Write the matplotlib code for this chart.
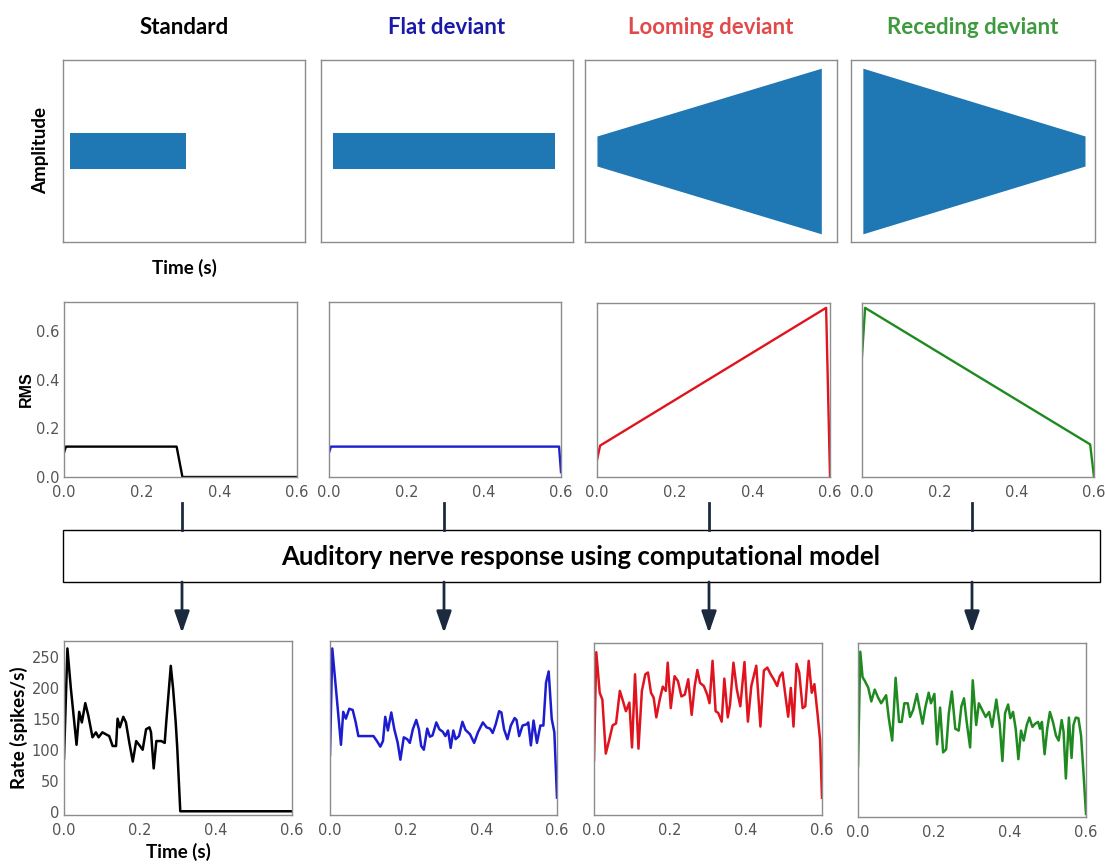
import numpy as np
import matplotlib
matplotlib.use('Agg')
import matplotlib.pyplot as plt
from matplotlib.patches import Rectangle

W, H = 1105, 865

# ---- data ----
titles = ['Standard', 'Flat deviant', 'Looming deviant', 'Receding deviant']
title_colors = ['black', '#1a1aa8', '#e04a4a', '#3f9a3f']
line_colors = ['black', '#1c1cd0', '#e0141e', '#1f8a1f']

# amplitude envelopes (top row)
env_t = [[0.0, 0.3], [0.0, 0.6], [0.0, 0.6], [0.0, 0.6]]
env_a = [[0.2, 0.2], [0.2, 0.2], [0.165, 0.91], [0.91, 0.165]]

# RMS (middle row)
rms_t = [[0.0, 0.005, 0.29, 0.305, 0.6],
         [0.0, 0.005, 0.595, 0.6],
         [0.0, 0.008, 0.59, 0.6],
         [0.0, 0.008, 0.59, 0.6]]
rms_v = [[0.10, 0.125, 0.125, 0.0, 0.0],
         [0.10, 0.125, 0.125, 0.02],
         [0.07, 0.13, 0.70, 0.0],
         [0.50, 0.70, 0.135, 0.0]]

# auditory nerve rate (bottom row)
std_t = [0.0, 0.009, 0.018, 0.033, 0.040, 0.047, 0.056, 0.064, 0.075, 0.084, 0.091,
         0.101, 0.110, 0.119, 0.128, 0.137, 0.141, 0.147, 0.156, 0.163, 0.172, 0.181,
         0.190, 0.200, 0.207, 0.216, 0.225, 0.229, 0.236, 0.243, 0.256, 0.265, 0.269,
         0.281, 0.287, 0.294, 0.298, 0.306, 0.6]
std_r = [86, 263, 199, 108, 161, 144, 175, 155, 120, 128, 120,
         128, 125, 122, 106, 106, 150, 136, 153, 144, 111, 81,
         114, 106, 100, 133, 136, 128, 70, 114, 114, 111, 144,
         235, 199, 144, 103, 1, 1]

flat_t = [0.0, 0.006, 0.018, 0.029, 0.035, 0.042, 0.051, 0.060, 0.068, 0.075, 0.088,
          0.102, 0.115, 0.124, 0.133, 0.140, 0.146, 0.153, 0.162, 0.170, 0.179, 0.186,
          0.195, 0.204, 0.211, 0.219, 0.228, 0.235, 0.241, 0.248, 0.257, 0.264, 0.271,
          0.281, 0.289, 0.298, 0.305, 0.312, 0.319, 0.326, 0.332, 0.341, 0.350, 0.358,
          0.370, 0.381, 0.391, 0.404, 0.414, 0.423, 0.430, 0.438, 0.447, 0.453, 0.460,
          0.469, 0.478, 0.488, 0.493, 0.500, 0.509, 0.520, 0.524, 0.531, 0.538, 0.547,
          0.556, 0.564, 0.571, 0.578, 0.586, 0.593, 0.6]
flat_r = [92, 263, 183, 108, 161, 150, 166, 164, 144, 122, 122,
          122, 122, 114, 105, 114, 153, 131, 160, 133, 111, 84,
          120, 117, 111, 133, 148, 133, 106, 100, 134, 121, 123,
          144, 133, 129, 122, 131, 103, 131, 117, 122, 145, 132,
          125, 111, 128, 144, 136, 134, 127, 141, 162, 160, 133,
          117, 139, 151, 148, 122, 139, 141, 144, 107, 147, 111,
          139, 139, 208, 226, 150, 128, 23]

loom_t = [0.0, 0.006, 0.015, 0.022, 0.031, 0.040, 0.049, 0.058, 0.068, 0.075, 0.084,
          0.093, 0.100, 0.108, 0.117, 0.126, 0.135, 0.142, 0.150, 0.157, 0.164, 0.173,
          0.181, 0.189, 0.194, 0.202, 0.212, 0.221, 0.230, 0.239, 0.248, 0.257, 0.265,
          0.272, 0.279, 0.289, 0.298, 0.304, 0.312, 0.320, 0.327, 0.336, 0.343, 0.352,
          0.358, 0.367, 0.376, 0.385, 0.396, 0.405, 0.414, 0.427, 0.438, 0.447, 0.456,
          0.465, 0.473, 0.482, 0.489, 0.496, 0.504, 0.511, 0.518, 0.525, 0.533, 0.540,
          0.549, 0.556, 0.565, 0.573, 0.580, 0.588, 0.595, 0.6]
loom_r = [84, 260, 194, 183, 95, 117, 141, 144, 197, 183, 164,
          178, 105, 224, 103, 197, 224, 227, 194, 186, 154, 183,
          204, 197, 243, 169, 221, 213, 188, 191, 216, 158, 205,
          231, 210, 205, 191, 177, 246, 164, 161, 147, 217, 154,
          175, 243, 199, 172, 244, 147, 205, 238, 139, 230, 235,
          224, 216, 205, 221, 227, 188, 155, 202, 139, 241, 227,
          169, 172, 246, 194, 208, 161, 117, 23]

rec_t = [0.0, 0.006, 0.012, 0.018, 0.027, 0.035, 0.044, 0.053, 0.061, 0.074, 0.081,
         0.090, 0.099, 0.108, 0.115, 0.122, 0.131, 0.137, 0.145, 0.155, 0.161, 0.170,
         0.177, 0.186, 0.192, 0.201, 0.208, 0.216, 0.224, 0.232, 0.239, 0.247, 0.256,
         0.265, 0.272, 0.279, 0.286, 0.295, 0.302, 0.311, 0.318, 0.327, 0.336, 0.345,
         0.353, 0.364, 0.373, 0.380, 0.387, 0.395, 0.401, 0.408, 0.415, 0.422, 0.429,
         0.436, 0.444, 0.451, 0.459, 0.466, 0.474, 0.479, 0.484, 0.491, 0.498, 0.505,
         0.513, 0.521, 0.528, 0.536, 0.541, 0.547, 0.555, 0.562, 0.567, 0.573, 0.580,
         0.587, 0.594, 0.6]
rec_r = [77, 261, 220, 214, 203, 181, 200, 187, 178, 191, 154,
         118, 219, 148, 148, 178, 178, 156, 167, 193, 173, 145,
         171, 195, 178, 193, 112, 171, 99, 104, 162, 197, 137,
         134, 173, 186, 148, 107, 215, 143, 178, 167, 156, 164,
         140, 184, 143, 85, 162, 176, 154, 164, 137, 88, 134,
         118, 143, 155, 140, 145, 148, 137, 148, 96, 137, 164,
         148, 126, 118, 151, 132, 57, 155, 90, 143, 155, 154,
         126, 60, 0]

rate_t = [std_t, flat_t, loom_t, rec_t]
rate_r = [std_r, flat_r, loom_r, rec_r]

# ---- layout (pixel boxes: x0, y0, x1, y1) ----
top_boxes = [(63, 60, 305, 242), (321, 60, 573, 242), (585, 60, 837, 242), (851, 60, 1095, 242)]
top_xlim = [(-0.018, 0.608), (-0.032, 0.649), (-0.032, 0.642), (-0.032, 0.627)]
mid_boxes = [(64, 302, 297, 477), (329, 302, 561, 477), (597, 303, 830, 477), (862, 303, 1094, 477)]
bot_boxes = [(64, 641, 292, 815), (330, 641, 557, 815), (594, 643, 822, 815), (858, 643, 1086, 817)]
arrow_x = [182, 444, 709, 972]

bold_font = 'Lato'
spine_col = '#8c8c8c'
tick_col = '#555555'

fig = plt.figure(figsize=(W / 100, H / 100), dpi=100)
fig.patch.set_facecolor('white')


def add_ax(box):
    x0, y0, x1, y1 = box
    ax = fig.add_axes([x0 / W, 1 - y1 / H, (x1 - x0) / W, (y1 - y0) / H])
    for s in ax.spines.values():
        s.set_color(spine_col)
        s.set_linewidth(1.0)
    ax.tick_params(length=0, labelcolor=tick_col, labelsize=10.5, pad=3)
    ax.tick_params(axis='x', pad=6)
    return ax


for i in range(4):
    # top row: amplitude envelope
    ax = add_ax(top_boxes[i])
    t = np.array(env_t[i])
    a = np.array(env_a[i])
    ax.fill_between(t, -a, a, color='#1f77b4', lw=0)
    ax.set_xlim(*top_xlim[i])
    ax.set_ylim(-1, 1)
    ax.set_xticks([])
    ax.set_yticks([])
    fig.text((top_boxes[i][0] + top_boxes[i][2]) / 2 / W, 1 - 27 / H, titles[i],
             ha='center', va='center', fontsize=16, fontweight='bold',
             color=title_colors[i], family=bold_font)
    if i == 0:
        ax.set_ylabel('Amplitude', fontsize=13.5, fontweight='bold', family=bold_font, labelpad=10)
        ax.set_xlabel('Time (s)', fontsize=13.5, fontweight='bold', family=bold_font, labelpad=12)

    # middle row: RMS
    ax = add_ax(mid_boxes[i])
    ax.plot(rms_t[i], rms_v[i], color=line_colors[i], lw=1.7)
    ax.set_xlim(0, 0.6)
    ax.set_ylim(0, 0.72)
    ax.set_xticks([0.0, 0.2, 0.4, 0.6])
    ax.set_xticklabels(['0.0', '0.2', '0.4', '0.6'])
    ax.set_yticks([0.0, 0.2, 0.4, 0.6])
    if i == 0:
        ax.set_yticklabels(['0.0', '0.2', '0.4', '0.6'])
        ax.set_ylabel('RMS', fontsize=11.5, fontweight='bold', family='Liberation Sans', labelpad=2)
    else:
        ax.set_yticklabels([])

    # bottom row: rate
    ax = add_ax(bot_boxes[i])
    ax.plot(rate_t[i], rate_r[i], color=line_colors[i], lw=1.8)
    ax.set_xlim(0, 0.6)
    ax.set_ylim(-5, 275)
    ax.set_xticks([0.0, 0.2, 0.4, 0.6])
    ax.set_xticklabels(['0.0', '0.2', '0.4', '0.6'])
    ax.set_yticks([0, 50, 100, 150, 200, 250])
    if i == 0:
        ax.set_yticklabels(['0', '50', '100', '150', '200', '250'])
        ax.set_ylabel('Rate (spikes/s)', fontsize=13.5, fontweight='bold', family=bold_font, labelpad=3)
        ax.set_xlabel('Time (s)', fontsize=13.5, fontweight='bold', family=bold_font, labelpad=3)
    else:
        ax.set_yticklabels([])

# overlay for the box and arrows, in pixel units
ov = fig.add_axes([0, 0, 1, 1], zorder=-1)
ov.set_xlim(0, W)
ov.set_ylim(H, 0)
ov.axis('off')
ov.add_patch(Rectangle((63, 530), 1037, 52, fill=False, ec='black', lw=1.0))
ov.text(581, 557, 'Auditory nerve response using computational model', ha='center',
        va='center', fontsize=18.5, fontweight='bold', family=bold_font)
arrow_col = '#1b2a3f'
for x in arrow_x:
    ov.plot([x, x], [503, 530], color=arrow_col, lw=2)
    ov.annotate('', xy=(x, 633), xytext=(x, 582),
                arrowprops=dict(arrowstyle='-|>,head_length=1.3,head_width=0.45',
                                color=arrow_col, lw=2, shrinkA=0, shrinkB=0))

fig.savefig('out.png', dpi=100)
